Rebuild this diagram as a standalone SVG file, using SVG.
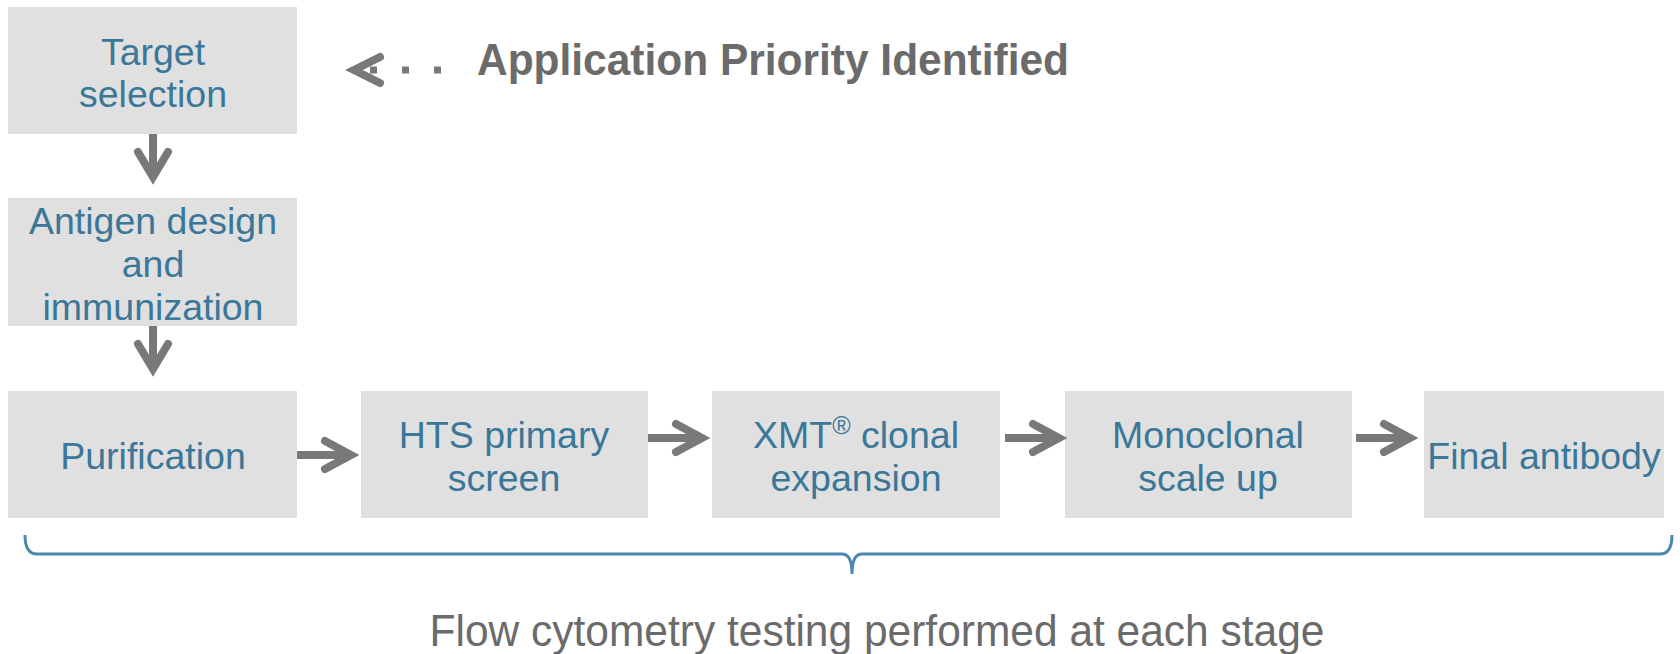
<svg xmlns="http://www.w3.org/2000/svg" width="1680" height="654" viewBox="0 0 1680 654">
  <style>
    .box { fill: #e0e0e0; }
    .label { font-family: "Liberation Sans", Arial, sans-serif; font-size: 37.5px; fill: #3b7799; text-anchor: middle; }
    .arrow { fill: none; stroke: #797979; stroke-width: 8; }
    .head { fill: none; stroke: #797979; stroke-width: 8; stroke-linecap: round; stroke-linejoin: miter; }
    .title { font-family: "Liberation Sans", Arial, sans-serif; font-size: 44px; font-weight: bold; fill: #6b6b6b; }
    .note { font-family: "Liberation Sans", Arial, sans-serif; font-size: 45px; fill: #6b6b6b; text-anchor: middle; }
    .brace { fill: none; stroke: #4a88ad; stroke-width: 3; }
  </style>
  <rect width="1680" height="654" fill="#ffffff"/>

  <!-- Stages -->
  <g id="target-selection">
    <rect class="box" x="8" y="7" width="289" height="127"/>
    <text class="label" x="153" y="65">Target</text>
    <text class="label" x="153" y="107">selection</text>
  </g>
  <g id="antigen-design">
    <rect class="box" x="8" y="198" width="289" height="128"/>
    <text class="label" x="153" y="234">Antigen design</text>
    <text class="label" x="153" y="277">and</text>
    <text class="label" x="153" y="320">immunization</text>
  </g>
  <g id="purification">
    <rect class="box" x="8" y="391" width="289" height="127"/>
    <text class="label" x="153" y="469">Purification</text>
  </g>
  <g id="hts-screen">
    <rect class="box" x="361" y="391" width="287" height="127"/>
    <text class="label" x="504" y="448">HTS primary</text>
    <text class="label" x="504" y="491">screen</text>
  </g>
  <g id="xmt-expansion">
    <rect class="box" x="712" y="391" width="288" height="127"/>
    <text class="label" x="856" y="448">XMT<tspan font-size="25" baseline-shift="55%">®</tspan> clonal</text>
    <text class="label" x="856" y="491">expansion</text>
  </g>
  <g id="monoclonal-scale-up">
    <rect class="box" x="1065" y="391" width="287" height="127"/>
    <text class="label" x="1208" y="448">Monoclonal</text>
    <text class="label" x="1208" y="491">scale up</text>
  </g>
  <g id="final-antibody">
    <rect class="box" x="1424" y="391" width="240" height="127"/>
    <text class="label" x="1544" y="469">Final antibody</text>
  </g>

  <!-- Priority note with dotted back-arrow -->
  <g id="application-priority">
    <line x1="370" y1="70" x2="441" y2="70" stroke="#797979" stroke-width="7" stroke-dasharray="7 25"/>
    <polyline class="head" points="380,57 354,70 380,83"/>
    <text class="title" x="477" y="75" textLength="592" lengthAdjust="spacingAndGlyphs">Application Priority Identified</text>
  </g>

  <!-- Flow connectors -->
  <g id="connectors">
    <line class="arrow" x1="153" y1="134" x2="153" y2="176"/>
    <polyline class="head" points="138,152 153,177 168,152"/>
    <line class="arrow" x1="153" y1="326" x2="153" y2="368"/>
    <polyline class="head" points="138,344 153,369 168,344"/>

    <line class="arrow" x1="297" y1="455" x2="350" y2="455"/>
    <polyline class="head" points="325,441 351,455 325,469"/>
    <line class="arrow" x1="648" y1="438" x2="701" y2="438"/>
    <polyline class="head" points="676,424 702,438 676,452"/>
    <line class="arrow" x1="1005" y1="438" x2="1058" y2="438"/>
    <polyline class="head" points="1033,424 1059,438 1033,452"/>
    <line class="arrow" x1="1356" y1="438" x2="1409" y2="438"/>
    <polyline class="head" points="1384,424 1410,438 1384,452"/>
  </g>

  <!-- Bracket spanning all stages -->
  <g id="stage-bracket">
    <path class="brace" d="M25,535 Q25,554 37,554 H842 Q852,554 852,574 Q852,554 862,554 H1660 Q1672,554 1672,535"/>
    <text class="note" x="877" y="646" textLength="895" lengthAdjust="spacingAndGlyphs">Flow cytometry testing performed at each stage</text>
  </g>
</svg>
